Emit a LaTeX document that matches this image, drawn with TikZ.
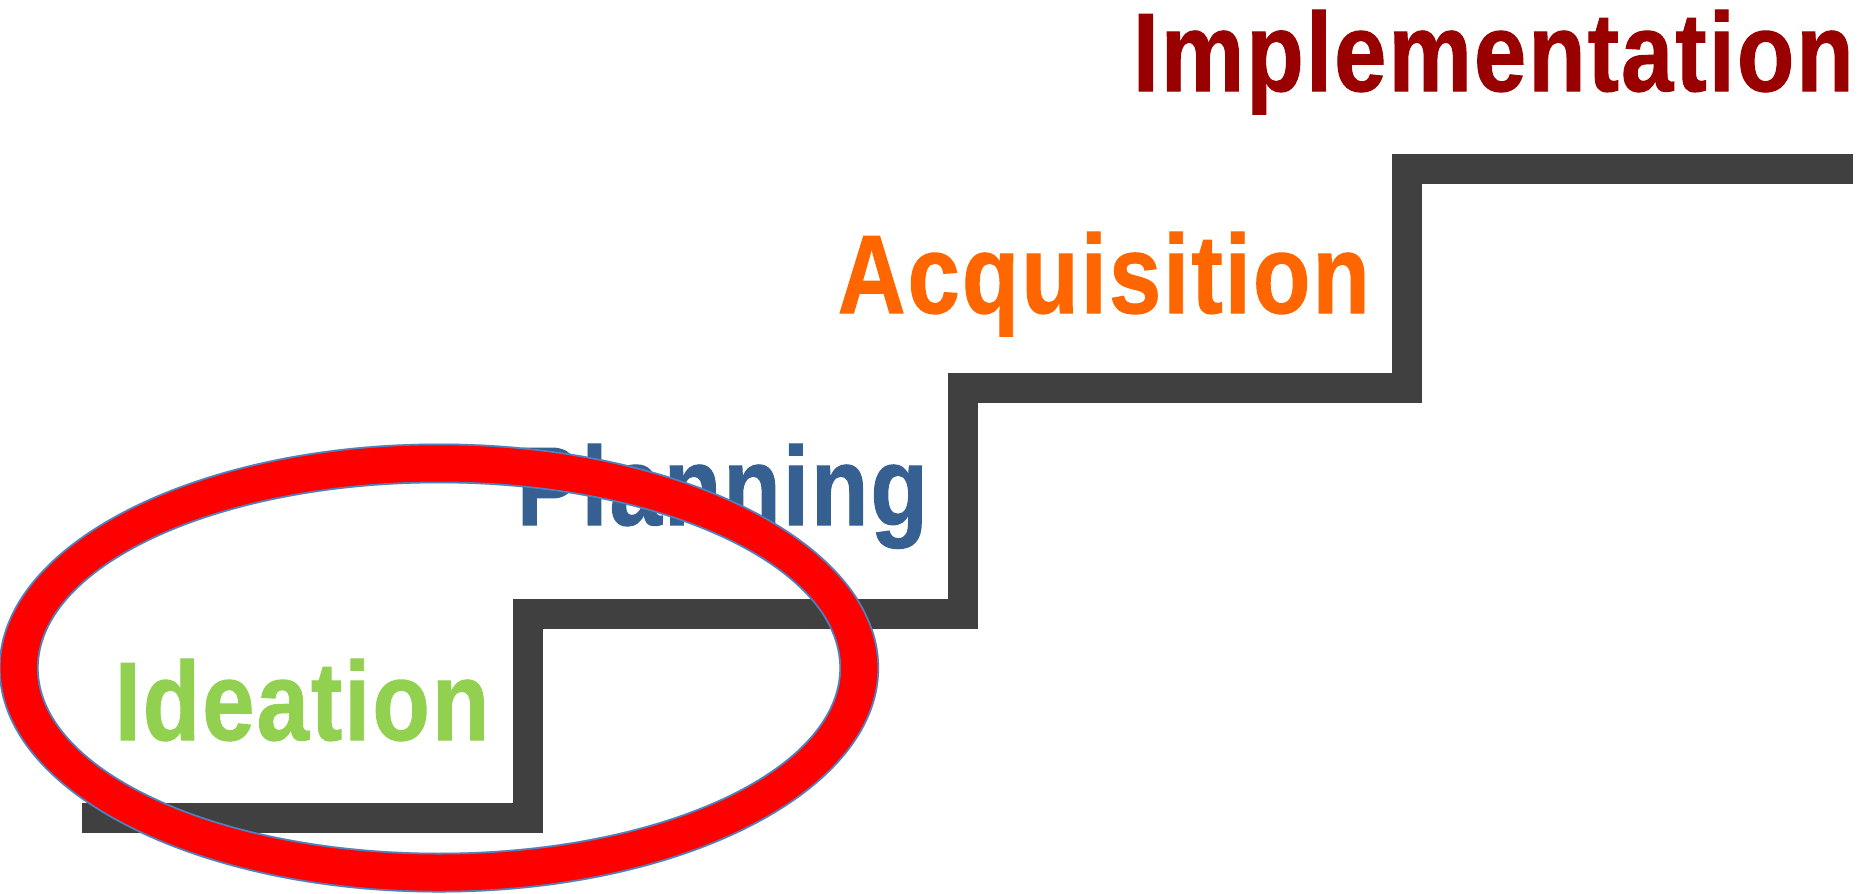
\documentclass[tikz,border=0pt]{standalone}
\usepackage{fontspec}
\setmainfont{Liberation Sans}
\newfontfamily\lblfont{Liberation Sans}[LetterSpace=2.2, FakeBold=1]
\usepackage{graphicx}
\definecolor{stair}{HTML}{404040}
\definecolor{implc}{HTML}{990000}
\definecolor{acqc}{HTML}{FF6600}
\definecolor{planc}{HTML}{376092}
\definecolor{ideac}{HTML}{92D050}
\definecolor{ringred}{HTML}{FF0000}
\definecolor{ringline}{HTML}{4F81BD}
\begin{document}
\begin{tikzpicture}[x=0.01cm,y=-0.01cm,
  lbl/.style={anchor=base west, inner sep=0pt, font=\lblfont\fontsize{31.8pt}{36pt}\selectfont\bfseries},
  stairline/.style={draw=stair, line width=0.30cm, miter limit=10}]
\useasboundingbox (0,0) rectangle (1876,893);
% staircase
\coordinate (s0) at (82,818);
\coordinate (s1) at (528,818);
\coordinate (s2) at (528,614);
\coordinate (s3) at (963,614);
\coordinate (s4) at (963,388);
\coordinate (s5) at (1407,388);
\coordinate (s6) at (1407,169);
\coordinate (s7) at (1853,169);
\draw[stairline] (s0) -- (s1) -- (s2) -- (s3) -- (s4) -- (s5) -- (s6) -- (s7);
% labels
\node[lbl, text=implc] (impl) at (1132,91) {\scalebox{0.84}[1]{Implementation}};
\node[lbl, text=acqc] (acq) at (837,313) {\scalebox{0.84}[1]{Acquisition}};
\node[lbl, text=planc] (plan) at (516,525) {\scalebox{0.84}[1]{Planning}};
\node[lbl, text=ideac] (idea) at (114,740) {\scalebox{0.84}[1]{Ideation}};
% ring shadow
\coordinate (rc) at (439,668);
\fill[black, opacity=0.12, even odd rule, shift={(3,6)}]
  (rc) ellipse [x radius=4.40cm, y radius=2.245cm]
  (rc) ellipse [x radius=4.00cm, y radius=1.845cm];
\fill[black, opacity=0.12, even odd rule, shift={(1,3)}]
  (rc) ellipse [x radius=4.39cm, y radius=2.235cm]
  (rc) ellipse [x radius=4.01cm, y radius=1.855cm];
% ring
\fill[ringred, even odd rule]
  (rc) ellipse [x radius=4.39cm, y radius=2.235cm]
  (rc) ellipse [x radius=4.01cm, y radius=1.855cm];
\draw[ringline, line width=0.5pt]
  (rc) ellipse [x radius=4.39cm, y radius=2.235cm]
  (rc) ellipse [x radius=4.01cm, y radius=1.855cm];
\end{tikzpicture}
\end{document}
